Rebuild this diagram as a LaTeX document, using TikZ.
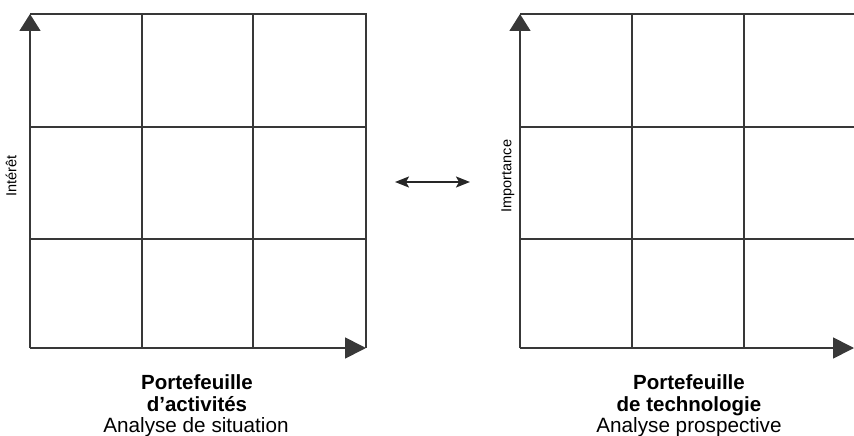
\documentclass[tikz,border=0pt]{standalone}
\usepackage{fontspec}
\setmainfont{Liberation Sans}
\usetikzlibrary{arrows.meta}
\begin{document}
\begin{tikzpicture}[x=1pt,y=-1pt,
  gridline/.style={draw=black!78,line width=1.7pt},
  axisup/.style={gridline,-{Triangle[width=21pt,length=17pt]}},
  axisright/.style={gridline,-{Triangle[width=21pt,length=21pt]}},
  twoway/.style={draw=black!85,line width=2pt,{Stealth[width=11pt,length=14pt,inset=3pt]}-{Stealth[width=11pt,length=14pt,inset=3pt]}},
  axislabel/.style={font=\fontsize{14.5}{16}\selectfont,rotate=90},
  boldlab/.style={font=\fontsize{20.5}{22}\selectfont\bfseries,anchor=base},
  plainlab/.style={font=\fontsize{20.7}{22}\selectfont,anchor=base}]
\useasboundingbox (0,0) rectangle (854,436);
% left grid
\coordinate (LO) at (30,348);
\coordinate (LT) at (30,14);
\coordinate (LR) at (366,348);
\coordinate (LTR) at (366,14);
\draw[gridline] (LT) -- (LTR) -- (LR);
\foreach \x in {141.7,253.3} \draw[gridline] (\x,14) -- (\x,348);
\foreach \y in {127,239} \draw[gridline] (30,\y) -- (366,\y);
\draw[axisup] (LO) -- (LT);
\draw[axisright] (LO) -- (LR);
\node[axislabel] (li) at (11,176) {Intérêt};
\node[boldlab] (l1) at (197,389) {Portefeuille};
\node[boldlab] (l2) at (197,411) {d’activités};
\node[plainlab] (l3) at (196,432) {Analyse de situation};
% right grid
\coordinate (RO) at (520,348);
\coordinate (RT) at (520,14);
\coordinate (RR) at (854,348);
\coordinate (RTR) at (854,14);
\draw[gridline] (RT) -- (RTR);
\foreach \x in {632,744} \draw[gridline] (\x,14) -- (\x,348);
\foreach \y in {127,239} \draw[gridline] (520,\y) -- (854,\y);
\draw[axisup] (RO) -- (RT);
\draw[axisright] (RO) -- (RR);
\node[axislabel] (ri) at (508,176) {Importance};
\node[boldlab] (r1) at (689,389) {Portefeuille};
\node[boldlab] (r2) at (689,411) {de technologie};
\node[plainlab] (r3) at (689,432) {Analyse prospective};
% middle double arrow
\coordinate (da) at (395,182);
\coordinate (db) at (470,182);
\draw[twoway] (da) -- (db);
\end{tikzpicture}
\end{document}
